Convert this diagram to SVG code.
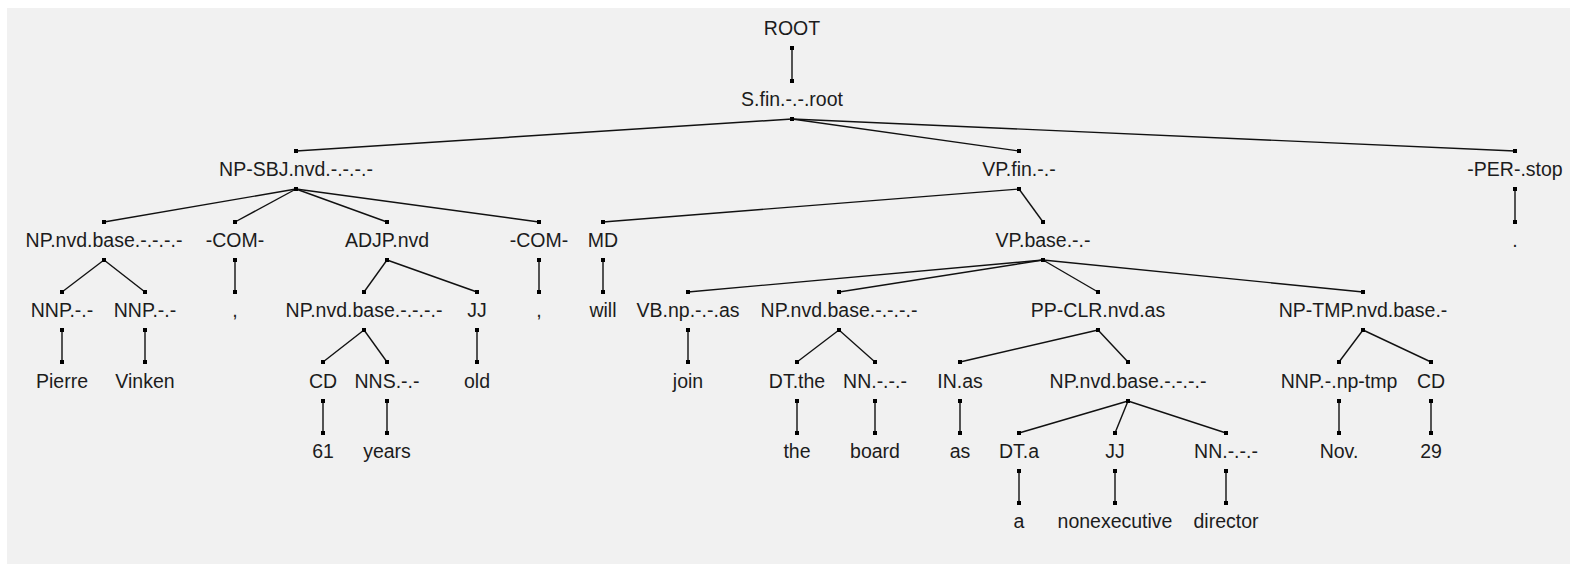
<svg xmlns="http://www.w3.org/2000/svg" width="1570" height="564" viewBox="0 0 1570 564">
<style>
text{font-family:"Liberation Sans",Arial,sans-serif;font-size:19.5px;fill:#1c1c1c;text-anchor:middle}
.e line{stroke:#111;stroke-width:1.4;marker-start:url(#d);marker-end:url(#d)}
</style>
<defs>
<marker id="d" markerUnits="userSpaceOnUse" markerWidth="5" markerHeight="5" refX="2.5" refY="2.5" viewBox="0 0 5 5"><rect x="0.5" y="0.5" width="4" height="4" fill="#000"/></marker>
</defs>
<rect width="1570" height="564" fill="#fff"/>
<rect x="7" y="8" width="1563" height="556" fill="#f1f1f1"/>
<g id="connectors" class="e">
<line x1="792" y1="48" x2="792" y2="81"/>
<line x1="792" y1="119" x2="296" y2="151"/>
<line x1="792" y1="119" x2="1019" y2="151"/>
<line x1="792" y1="119" x2="1515" y2="151"/>
<line x1="296" y1="189" x2="104" y2="222"/>
<line x1="296" y1="189" x2="235" y2="222"/>
<line x1="296" y1="189" x2="387" y2="222"/>
<line x1="296" y1="189" x2="539" y2="222"/>
<line x1="1019" y1="189" x2="603" y2="222"/>
<line x1="1019" y1="189" x2="1043" y2="222"/>
<line x1="1515" y1="189" x2="1515" y2="222"/>
<line x1="104" y1="260" x2="62" y2="292"/>
<line x1="104" y1="260" x2="145" y2="292"/>
<line x1="235" y1="260" x2="235" y2="292"/>
<line x1="387" y1="260" x2="364" y2="292"/>
<line x1="387" y1="260" x2="477" y2="292"/>
<line x1="539" y1="260" x2="539" y2="292"/>
<line x1="603" y1="260" x2="603" y2="292"/>
<line x1="1043" y1="260" x2="688" y2="292"/>
<line x1="1043" y1="260" x2="839" y2="292"/>
<line x1="1043" y1="260" x2="1098" y2="292"/>
<line x1="1043" y1="260" x2="1363" y2="292"/>
<line x1="62" y1="330" x2="62" y2="362"/>
<line x1="145" y1="330" x2="145" y2="362"/>
<line x1="364" y1="330" x2="323" y2="362"/>
<line x1="364" y1="330" x2="387" y2="362"/>
<line x1="477" y1="330" x2="477" y2="362"/>
<line x1="688" y1="330" x2="688" y2="362"/>
<line x1="839" y1="330" x2="797" y2="362"/>
<line x1="839" y1="330" x2="875" y2="362"/>
<line x1="1098" y1="330" x2="960" y2="362"/>
<line x1="1098" y1="330" x2="1128" y2="362"/>
<line x1="1363" y1="330" x2="1339" y2="362"/>
<line x1="1363" y1="330" x2="1431" y2="362"/>
<line x1="323" y1="401" x2="323" y2="433"/>
<line x1="387" y1="401" x2="387" y2="433"/>
<line x1="797" y1="401" x2="797" y2="433"/>
<line x1="875" y1="401" x2="875" y2="433"/>
<line x1="960" y1="401" x2="960" y2="433"/>
<line x1="1128" y1="401" x2="1019" y2="433"/>
<line x1="1128" y1="401" x2="1115" y2="433"/>
<line x1="1128" y1="401" x2="1226" y2="433"/>
<line x1="1339" y1="401" x2="1339" y2="433"/>
<line x1="1431" y1="401" x2="1431" y2="433"/>
<line x1="1019" y1="471" x2="1019" y2="503"/>
<line x1="1115" y1="471" x2="1115" y2="503"/>
<line x1="1226" y1="471" x2="1226" y2="503"/>
</g>
<g id="n-root"><text x="792" y="35">ROOT</text></g>
<g id="n-s"><text x="792" y="106">S.fin.-.-.root</text></g>
<g id="n-npsbj"><text x="296" y="176">NP-SBJ.nvd.-.-.-.-</text></g>
<g id="n-vpfin"><text x="1019" y="176">VP.fin.-.-</text></g>
<g id="n-per"><text x="1515" y="176">-PER-.stop</text></g>
<g id="n-np1"><text x="104" y="247">NP.nvd.base.-.-.-.-</text></g>
<g id="n-com1"><text x="235" y="247">-COM-</text></g>
<g id="n-adjp"><text x="387" y="247">ADJP.nvd</text></g>
<g id="n-com2"><text x="539" y="247">-COM-</text></g>
<g id="n-md"><text x="603" y="247">MD</text></g>
<g id="n-vpbase"><text x="1043" y="247">VP.base.-.-</text></g>
<g id="n-period"><text x="1515" y="247">.</text></g>
<g id="n-nnp1"><text x="62" y="317">NNP.-.-</text></g>
<g id="n-nnp2"><text x="145" y="317">NNP.-.-</text></g>
<g id="n-comma1"><text x="235" y="317">,</text></g>
<g id="n-np2"><text x="364" y="317">NP.nvd.base.-.-.-.-</text></g>
<g id="n-jj1"><text x="477" y="317">JJ</text></g>
<g id="n-comma2"><text x="539" y="317">,</text></g>
<g id="n-will"><text x="603" y="317">will</text></g>
<g id="n-vb"><text x="688" y="317">VB.np.-.-.as</text></g>
<g id="n-np3"><text x="839" y="317">NP.nvd.base.-.-.-.-</text></g>
<g id="n-ppclr"><text x="1098" y="317">PP-CLR.nvd.as</text></g>
<g id="n-nptmp"><text x="1363" y="317">NP-TMP.nvd.base.-</text></g>
<g id="n-pierre"><text x="62" y="388">Pierre</text></g>
<g id="n-vinken"><text x="145" y="388">Vinken</text></g>
<g id="n-cd1"><text x="323" y="388">CD</text></g>
<g id="n-nns"><text x="387" y="388">NNS.-.-</text></g>
<g id="n-old"><text x="477" y="388">old</text></g>
<g id="n-join"><text x="688" y="388">join</text></g>
<g id="n-dtthe"><text x="797" y="388">DT.the</text></g>
<g id="n-nn1"><text x="875" y="388">NN.-.-.-</text></g>
<g id="n-inas"><text x="960" y="388">IN.as</text></g>
<g id="n-np4"><text x="1128" y="388">NP.nvd.base.-.-.-.-</text></g>
<g id="n-nnptmp"><text x="1339" y="388">NNP.-.np-tmp</text></g>
<g id="n-cd2"><text x="1431" y="388">CD</text></g>
<g id="n-61"><text x="323" y="458">61</text></g>
<g id="n-years"><text x="387" y="458">years</text></g>
<g id="n-the"><text x="797" y="458">the</text></g>
<g id="n-board"><text x="875" y="458">board</text></g>
<g id="n-as"><text x="960" y="458">as</text></g>
<g id="n-dta"><text x="1019" y="458">DT.a</text></g>
<g id="n-jj2"><text x="1115" y="458">JJ</text></g>
<g id="n-nn2"><text x="1226" y="458">NN.-.-.-</text></g>
<g id="n-nov"><text x="1339" y="458">Nov.</text></g>
<g id="n-29"><text x="1431" y="458">29</text></g>
<g id="n-a"><text x="1019" y="528">a</text></g>
<g id="n-nonexec"><text x="1115" y="528">nonexecutive</text></g>
<g id="n-director"><text x="1226" y="528">director</text></g>
</svg>
